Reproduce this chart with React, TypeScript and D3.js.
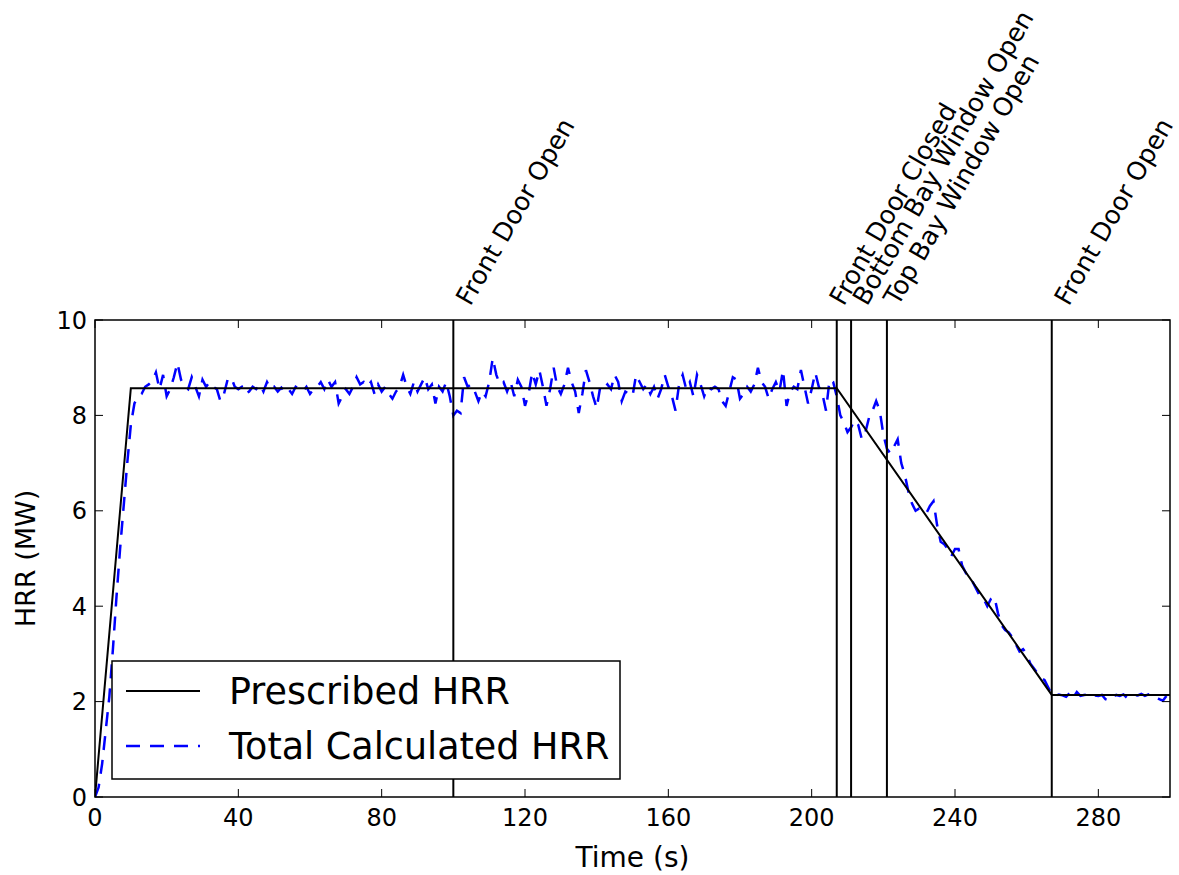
import { useEffect, useRef } from "react";
import * as d3 from "d3";

// axis ticks
const xTicks = [0, 40, 80, 120, 160, 200, 240, 280];
const yTicks = [0, 2, 4, 6, 8, 10];

// prescribed heat release rate (MW) at its break points (s)
const prescribedTime = [0, 10, 207, 267, 300];
const prescribedHrr = [0, 8.57, 8.57, 2.14, 2.14];

// ventilation events
const eventTimes = [100, 207, 211, 221, 267];
const eventLabels = [
  "Front Door Open",
  "Front Door Closed",
  "Bottom Bay Window Open",
  "Top Bay Window Open",
  "Front Door Open",
];

// total calculated HRR (MW), one value per second from t = 0
const calculatedHrr = [
  0, 0.2, 0.7, 1.4, 2.1, 3.1, 4.2, 5.2, 6.1, 7.0,
  7.8, 8.25, 8.4, 8.45, 8.6, 8.65, 8.72, 8.9, 8.55, 8.85,
  8.4, 8.55, 8.8, 9.1, 8.75, 8.6, 8.55, 8.8, 8.6, 8.4,
  8.75, 8.6, 8.7, 8.6, 8.55, 8.3, 8.45, 8.75, 8.8, 8.6,
  8.55, 8.6, 8.45, 8.5, 8.6, 8.55, 8.65, 8.5, 8.7, 8.55,
  8.6, 8.5, 8.58, 8.48, 8.55, 8.45, 8.6, 8.55, 8.5, 8.6,
  8.45, 8.55, 8.6, 8.7, 8.55, 8.75, 8.6, 8.7, 8.25, 8.4,
  8.55, 8.45, 8.6, 8.8, 8.65, 8.7, 8.6, 8.7, 8.45, 8.65,
  8.5, 8.6, 8.45, 8.35, 8.5, 8.6, 8.85, 8.6, 8.45, 8.7,
  8.5, 8.65, 8.8, 8.55, 8.65, 8.25, 8.6, 8.5, 8.7, 8.4,
  8.0, 8.1, 8.05, 8.8, 8.6, 8.65, 8.5, 8.3, 8.5, 8.4,
  8.7, 9.2, 8.85, 8.65, 8.7, 8.5, 8.7, 8.4, 8.75, 8.6,
  8.2, 8.45, 8.9, 8.65, 8.95, 8.6, 8.2, 8.55, 9.0, 8.6,
  8.45, 8.65, 9.0, 8.7, 8.5, 8.05, 8.45, 8.95, 8.7, 8.4,
  8.15, 8.6, 8.55, 8.65, 8.55, 8.85, 8.7, 8.3, 8.5, 8.45,
  8.4, 8.85, 8.7, 8.55, 8.65, 8.45, 8.6, 8.35, 8.55, 8.85,
  8.6, 8.4, 8.1, 8.65, 8.85, 8.55, 8.7, 8.4, 8.85, 8.65,
  8.4, 8.6, 8.55, 8.6, 8.55, 8.3, 8.2, 8.5, 8.8, 8.75,
  8.35, 8.45, 8.6, 8.5, 8.65, 9.0, 8.7, 8.6, 8.35, 8.55,
  8.7, 8.5, 8.95, 8.2, 8.5, 8.6, 8.55, 8.95, 8.6, 8.25,
  8.55, 8.9, 8.6, 8.45, 8.1, 8.75, 8.7, 8.4, 8.0, 7.85,
  7.65, 7.75, 7.9, 7.8, 7.5, 7.65, 7.95, 8.1, 8.3, 8.1,
  7.6, 7.3, 7.2, 7.35, 7.5, 7.0, 6.75, 6.4, 6.15, 6.0,
  6.05, 6.0, 5.95, 6.1, 6.2, 5.7, 5.35, 5.3, 5.2, 5.05,
  5.2, 5.2, 4.85, 4.7, 4.55, 4.5, 4.35, 4.2, 4.15, 4.0,
  4.15, 4.2, 3.85, 3.6, 3.5, 3.45, 3.35, 3.2, 3.05, 3.1,
  3.0, 2.8, 2.7, 2.6, 2.5, 2.45, 2.3, 2.15, 2.12, 2.15,
  2.13, 2.1, 2.18, 2.08, 2.2, 2.12, 2.14, 2.15, 2.18, 2.13,
  2.12, 2.14, 2.05, 2.02, 2.1, 2.14, 2.12, 2.15, 2.08, 2.12,
  2.14, 2.13, 2.16, 2.12, 2.15, 2.12, 2.1, 2.05, 2.02, 2.12,
];

// horizontal nudge (px) of each event label from its line
const labelShift = [17, 7, 16, 11, 17];

const FONT = "'DejaVu Sans', sans-serif";

export default function App() {
  const ref = useRef<SVGSVGElement>(null);

  useEffect(() => {
    document.body.style.margin = "0";
    const svg = d3.select(ref.current);
    svg.selectAll("*").remove();

    const left = 95, right = 1170, top = 320, bottom = 797;
    const x = d3.scaleLinear().domain([0, 300]).range([left, right]);
    const y = d3.scaleLinear().domain([0, 10]).range([bottom, top]);

    svg.append("defs").append("clipPath").attr("id", "plot-clip")
      .append("rect")
      .attr("x", left).attr("y", top)
      .attr("width", right - left).attr("height", bottom - top);

    const plot = svg.append("g").attr("clip-path", "url(#plot-clip)");

    const calcLine = d3.line<number>()
      .x((_, i) => x(i))
      .y((d) => y(d));
    plot.append("path")
      .datum(calculatedHrr)
      .attr("d", calcLine)
      .attr("fill", "none")
      .attr("stroke", "#0000ff")
      .attr("stroke-width", 2.5)
      .attr("stroke-dasharray", "14,10");

    const presLine = d3.line<number>()
      .x((_, i) => x(prescribedTime[i]))
      .y((d) => y(d));
    plot.append("path")
      .datum(prescribedHrr)
      .attr("d", presLine)
      .attr("fill", "none")
      .attr("stroke", "#000")
      .attr("stroke-width", 2);

    plot.selectAll("line.event")
      .data(eventTimes)
      .join("line")
      .attr("class", "event")
      .attr("x1", (d) => x(d)).attr("x2", (d) => x(d))
      .attr("y1", top).attr("y2", bottom)
      .attr("stroke", "#000")
      .attr("stroke-width", 2);

    // event labels, rotated 60 degrees
    svg.selectAll("text.event")
      .data(eventTimes)
      .join("text")
      .attr("class", "event")
      .attr("transform", (d, i) => `translate(${x(d) + labelShift[i]},${top - 13}) rotate(-60)`)
      .attr("font-family", FONT)
      .attr("font-size", 25.5)
      .text((_, i) => eventLabels[i]);

    // frame
    svg.append("rect")
      .attr("x", left).attr("y", top)
      .attr("width", right - left).attr("height", bottom - top)
      .attr("fill", "none")
      .attr("stroke", "#000")
      .attr("stroke-width", 1.5);

    // ticks on all four sides, pointing inward
    const tickLen = 8;
    const tk = svg.append("g").attr("stroke", "#000").attr("stroke-width", 1);
    xTicks.forEach((t) => {
      tk.append("line").attr("x1", x(t)).attr("x2", x(t)).attr("y1", bottom).attr("y2", bottom - tickLen);
      tk.append("line").attr("x1", x(t)).attr("x2", x(t)).attr("y1", top).attr("y2", top + tickLen);
    });
    yTicks.forEach((t) => {
      tk.append("line").attr("x1", left).attr("x2", left + tickLen).attr("y1", y(t)).attr("y2", y(t));
      tk.append("line").attr("x1", right).attr("x2", right - tickLen).attr("y1", y(t)).attr("y2", y(t));
    });

    svg.append("g").selectAll("text")
      .data(xTicks)
      .join("text")
      .attr("x", (d) => x(d))
      .attr("y", bottom + 29)
      .attr("text-anchor", "middle")
      .attr("font-family", FONT)
      .attr("font-size", 24)
      .text((d) => d);

    svg.append("g").selectAll("text")
      .data(yTicks)
      .join("text")
      .attr("x", left - 8)
      .attr("y", (d) => y(d) + 8.5)
      .attr("text-anchor", "end")
      .attr("font-family", FONT)
      .attr("font-size", 24)
      .text((d) => d);

    svg.append("text")
      .attr("x", (left + right) / 2)
      .attr("y", 867)
      .attr("text-anchor", "middle")
      .attr("font-family", FONT)
      .attr("font-size", 28)
      .text("Time (s)");

    svg.append("text")
      .attr("transform", `translate(35,${(top + bottom) / 2}) rotate(-90)`)
      .attr("text-anchor", "middle")
      .attr("font-family", FONT)
      .attr("font-size", 27)
      .text("HRR (MW)");

    // legend
    const lg = svg.append("g");
    lg.append("rect")
      .attr("x", 112).attr("y", 661)
      .attr("width", 508).attr("height", 118)
      .attr("fill", "#fff")
      .attr("stroke", "#000")
      .attr("stroke-width", 1.5);
    lg.append("line")
      .attr("x1", 126).attr("x2", 200).attr("y1", 691).attr("y2", 691)
      .attr("stroke", "#000").attr("stroke-width", 2);
    lg.append("line")
      .attr("x1", 126).attr("x2", 200).attr("y1", 746).attr("y2", 746)
      .attr("stroke", "#0000ff").attr("stroke-width", 2.5)
      .attr("stroke-dasharray", "14,10");
    lg.append("text")
      .attr("x", 229).attr("y", 704)
      .attr("font-family", FONT).attr("font-size", 36.5)
      .text("Prescribed HRR");
    lg.append("text")
      .attr("x", 229).attr("y", 759)
      .attr("font-family", FONT).attr("font-size", 36.5)
      .text("Total Calculated HRR");
  }, []);

  return <svg ref={ref} width={1179} height={875} style={{ display: "block" }} />;
}
